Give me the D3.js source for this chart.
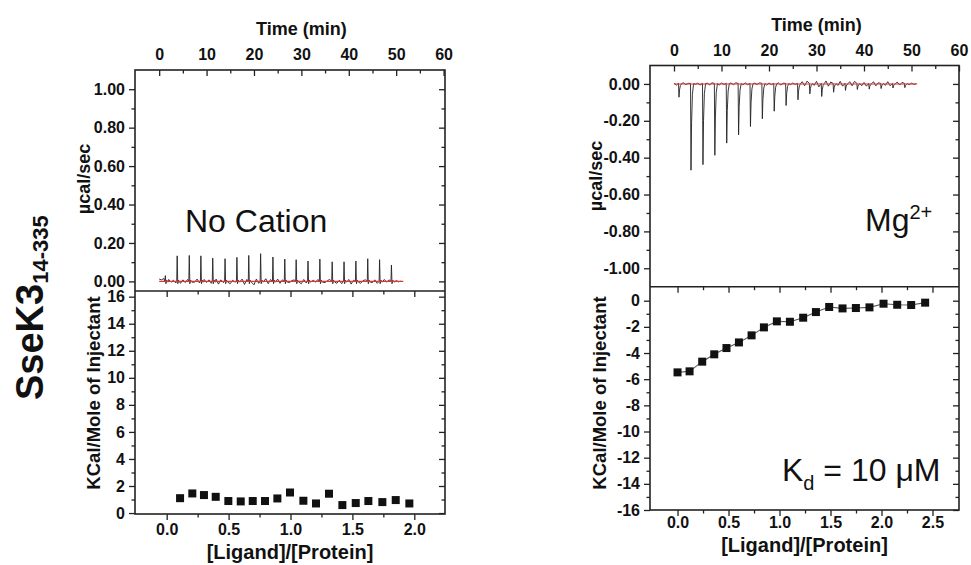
<!DOCTYPE html>
<html><head><meta charset="utf-8">
<script src="https://cdn.jsdelivr.net/npm/d3@7"></script>
<style>
body{margin:0;background:#fff;}
svg{display:block;}
text{font-family:"Liberation Sans",Arial,sans-serif;fill:#111;}
</style>
</head><body>
<svg id="c" width="971" height="565"></svg>
<script>
// ---------- data ----------
const timeTicks = [0, 10, 20, 30, 40, 50, 60];
const powerTicksLeft = [0, 0.2, 0.4, 0.6, 0.8, 1.0];
const powerTicksRight = [0, -0.2, -0.4, -0.6, -0.8, -1.0];
const heatTicksLeft = [0, 2, 4, 6, 8, 10, 12, 14, 16];
const heatTicksRight = [-16, -14, -12, -10, -8, -6, -4, -2, 0];
const ratioTicksLeft = [0.0, 0.5, 1.0, 1.5, 2.0];
const ratioTicksRight = [0.0, 0.5, 1.0, 1.5, 2.0, 2.5];

// raw ITC thermogram: injection times (min) and peak heights (µcal/sec)
const injTimesLeft = [1.3, 3.8, 6.35, 8.8, 11.3, 13.9, 16.4, 18.9, 21.4, 24.0, 26.5, 28.9, 31.4, 33.9, 36.5, 39.0, 41.5, 44.0, 46.5, 49.0];
const peaksLeft = [0.03, 0.133, 0.135, 0.133, 0.121, 0.118, 0.125, 0.135, 0.144, 0.127, 0.116, 0.113, 0.106, 0.116, 0.102, 0.102, 0.106, 0.118, 0.113, 0.085];
const injTimesRight = [1.05, 3.58, 6.1, 8.6, 11.1, 13.6, 16.1, 18.6, 21.1, 23.6, 26.1, 28.6, 31.1, 33.6, 36.1, 38.6, 41.1, 43.6, 46.1, 48.6];
const peaksRight = [-0.072, -0.468, -0.438, -0.387, -0.321, -0.276, -0.231, -0.189, -0.148, -0.117, -0.086, -0.054, -0.068, -0.045, -0.035, -0.030, -0.028, -0.025, -0.022, -0.020];
// baseline wiggle read every 0.5 min from 0 to 51 min
const noiseLeft = [0.012,0.008,0.015,0.005,0.010,-0.004,0.006,-0.008,0.004,-0.010,0.008,-0.006,0.010,-0.012,0.006,-0.004,0.012,-0.008,0.004,0.010,
-0.006,0.008,-0.010,0.005,0.012,-0.014,0.008,-0.006,0.004,0.010,-0.012,0.006,-0.004,0.008,-0.010,0.012,-0.016,0.010,-0.012,0.015,
-0.018,0.012,-0.010,0.008,-0.006,0.014,-0.012,0.010,-0.008,0.006,0.012,-0.010,0.008,-0.014,0.010,-0.006,0.004,0.008,-0.010,0.006,
-0.012,0.010,-0.008,0.012,-0.016,0.006,-0.004,0.010,-0.012,0.008,-0.006,0.004,0.010,-0.008,0.012,-0.010,0.006,-0.012,0.008,-0.004,
0.010,-0.014,0.006,-0.008,0.012,-0.010,0.004,0.008,-0.012,0.010,-0.006,0.008,-0.010,0.006,-0.012,0.010,-0.004,0.008,-0.010,0.006,
0.004,-0.002,0.001];
const noiseRight = [0.004,-0.006,0.005,-0.003,0.006,-0.004,0.003,-0.005,0.006,-0.002,0.004,-0.006,0.005,-0.003,0.004,-0.005,0.006,-0.004,0.003,-0.006,
0.005,-0.003,0.004,-0.006,0.005,-0.004,0.006,-0.003,0.004,-0.005,0.006,-0.004,0.005,-0.006,0.004,-0.003,0.006,-0.005,0.004,-0.006,
0.005,-0.004,0.006,-0.003,0.005,-0.006,0.004,-0.005,0.006,-0.004,0.005,-0.003,0.004,-0.006,0.012,-0.010,0.015,-0.012,0.018,-0.008,
0.014,-0.016,0.012,-0.010,0.016,-0.012,0.010,-0.014,0.012,-0.008,0.014,-0.012,0.010,-0.016,0.012,-0.010,0.014,-0.008,0.012,-0.010,
0.008,-0.012,0.010,-0.008,0.012,-0.010,0.006,-0.012,0.010,-0.008,0.012,-0.010,0.008,-0.012,0.010,-0.006,0.008,-0.010,0.006,-0.004,
0.004,-0.002,0.001];

// integrated heats
const ratioLeft = [0.108,0.207,0.301,0.396,0.498,0.598,0.695,0.794,0.894,0.996,1.104,1.206,1.311,1.419,1.527,1.629,1.742,1.850,1.960];
const heatLeft  = [1.10,1.45,1.33,1.20,0.89,0.86,0.89,0.89,1.08,1.52,0.91,0.71,1.43,0.59,0.74,0.89,0.81,0.96,0.71];
const ratioRight = [0.0,0.118,0.242,0.36,0.48,0.602,0.726,0.847,0.974,1.102,1.232,1.357,1.487,1.618,1.749,1.882,2.02,2.154,2.291,2.428];
const heatRight  = [-5.48,-5.40,-4.66,-4.10,-3.62,-3.19,-2.65,-2.04,-1.58,-1.61,-1.30,-0.87,-0.48,-0.59,-0.56,-0.51,-0.23,-0.31,-0.33,-0.15];

// ---------- drawing ----------
const svg = d3.select("#c");
const FRAME = "#222";

function minorTicks(ticks) {
  const out = [];
  for (let i = 0; i < ticks.length - 1; i++) out.push((ticks[i] + ticks[i + 1]) / 2);
  return out;
}

function column(cfg) {
  const g = svg.append("g");
  const xT = d3.scaleLinear().domain(cfg.timeDomain).range([cfg.x0, cfg.x1]);
  const yP = d3.scaleLinear().domain(cfg.powerDomain).range([cfg.mid, cfg.top]);
  const xR = d3.scaleLinear().domain(cfg.ratioDomain).range([cfg.x0, cfg.x1]);
  const yH = d3.scaleLinear().domain(cfg.heatDomain).range([cfg.bottom, cfg.mid]);

  function ax(axis, tx, ty, labels) {
    const a = g.append("g").attr("transform", `translate(${tx},${ty})`).call(axis);
    a.select(".domain").remove();
    a.selectAll("line").attr("stroke", FRAME).attr("stroke-width", 1.3);
    a.selectAll("text").attr("font-size", 16).attr("font-weight", "bold").attr("fill", "#111").style("font-family", '"Liberation Sans",Arial,sans-serif');
    if (!labels) a.selectAll("text").remove();
    return a;
  }
  const fmt2 = d3.format(".2f"), fmt1 = d3.format(".1f"), fmt0 = d3.format("d");
  const minusFix = f => v => f(v).replace("−", "-");

  // top panel: time axis on top (inward ticks)
  ax(d3.axisTop(xT).tickValues(cfg.timeTicks).tickSize(-6).tickPadding(10).tickFormat(fmt0), 0, cfg.top, true);
  ax(d3.axisTop(xT).tickValues(minorTicks(cfg.timeTicks)).tickSize(-3.5).tickFormat(""), 0, cfg.top, false);
  // top panel: power axis left (outward) and right (inward)
  ax(d3.axisLeft(yP).tickValues(cfg.powerTicks).tickSize(6).tickPadding(4).tickFormat(minusFix(fmt2)), cfg.x0, 0, true);
  ax(d3.axisLeft(yP).tickValues(minorTicks(cfg.powerTicks)).tickSize(3.5).tickFormat(""), cfg.x0, 0, false);
  ax(d3.axisLeft(yP).tickValues(cfg.powerTicks).tickSize(6).tickFormat(""), cfg.x1, 0, false);
  ax(d3.axisLeft(yP).tickValues(minorTicks(cfg.powerTicks)).tickSize(3.5).tickFormat(""), cfg.x1, 0, false);

  // bottom panel: ratio axis bottom (outward) and at divider (inward)
  ax(d3.axisBottom(xR).tickValues(cfg.ratioTicks).tickSize(6).tickPadding(cfg.xPad).tickFormat(minusFix(fmt1)), 0, cfg.bottom, true);
  ax(d3.axisBottom(xR).tickValues(minorTicks(cfg.ratioTicks)).tickSize(3.5).tickFormat(""), 0, cfg.bottom, false);
  ax(d3.axisTop(xR).tickValues(cfg.ratioTicks).tickSize(-6).tickFormat(""), 0, cfg.mid, false);
  ax(d3.axisTop(xR).tickValues(minorTicks(cfg.ratioTicks)).tickSize(-3.5).tickFormat(""), 0, cfg.mid, false);
  // bottom panel: heat axis
  ax(d3.axisLeft(yH).tickValues(cfg.heatTicks).tickSize(6).tickPadding(4).tickFormat(minusFix(fmt0)), cfg.x0, 0, true);
  ax(d3.axisLeft(yH).tickValues(minorTicks(cfg.heatTicks)).tickSize(3.5).tickFormat(""), cfg.x0, 0, false);
  ax(d3.axisLeft(yH).tickValues(cfg.heatTicks).tickSize(6).tickFormat(""), cfg.x1, 0, false);
  ax(d3.axisLeft(yH).tickValues(minorTicks(cfg.heatTicks)).tickSize(3.5).tickFormat(""), cfg.x1, 0, false);

  // thermogram trace
  const pts = [];
  const spikeWin = cfg.inj.map(t => [t - 0.15, t + 0.65]);
  cfg.noise.forEach((v, i) => {
    const t = i * 0.5;
    if (!spikeWin.some(w => t >= w[0] && t <= w[1])) pts.push([t, v]);
  });
  cfg.inj.forEach((t, i) => {
    const h = cfg.peaks[i];
    if (h > 0) {
      pts.push([t - 0.1, 0.0], [t, h], [t + 0.12, -0.012], [t + 0.3, 0.006], [t + 0.55, -0.004]);
    } else {
      pts.push([t - 0.1, 0.003], [t, h], [t + 0.12, h * 0.45], [t + 0.3, h * 0.12], [t + 0.55, 0.002]);
    }
  });
  pts.sort((a, b) => a[0] - b[0]);
  const clipId = "clip" + cfg.id;
  g.append("clipPath").attr("id", clipId).append("rect")
    .attr("x", cfg.x0).attr("y", cfg.top).attr("width", cfg.x1 - cfg.x0).attr("height", cfg.mid - cfg.top);
  g.append("path").datum(pts).attr("clip-path", `url(#${clipId})`)
    .attr("d", d3.line().x(d => xT(d[0])).y(d => yP(d[1])))
    .attr("fill", "none").attr("stroke", "#222").attr("stroke-width", 0.9);
  g.append("path").datum([[0, 0], [cfg.traceEnd, 0]])
    .attr("d", d3.line().x(d => xT(d[0])).y(d => yP(d[1])))
    .attr("fill", "none").attr("stroke", "#e0353a").attr("stroke-width", 1.1);

  // integrated heats
  const hp = cfg.ratio.map((r, i) => [r, cfg.heat[i]]);
  if (cfg.fitLine) {
    g.append("path").datum(hp)
      .attr("d", d3.line().x(d => xR(d[0])).y(d => yH(d[1])))
      .attr("fill", "none").attr("stroke", "#555").attr("stroke-width", 1.1);
  }
  g.selectAll("rect.pt").data(hp).join("rect").attr("class", "pt")
    .attr("x", d => xR(d[0]) - 4).attr("y", d => yH(d[1]) - 4)
    .attr("width", 8).attr("height", 8).attr("fill", "#111");

  // frame
  g.append("rect").attr("x", cfg.x0).attr("y", cfg.top).attr("width", cfg.x1 - cfg.x0)
    .attr("height", cfg.bottom - cfg.top).attr("fill", "none").attr("stroke", FRAME).attr("stroke-width", 1.6);
  g.append("line").attr("x1", cfg.x0).attr("x2", cfg.x1).attr("y1", cfg.mid).attr("y2", cfg.mid)
    .attr("stroke", FRAME).attr("stroke-width", 1.6);

  // titles
  g.append("text").attr("x", (xT(0) + xT(60)) / 2).attr("y", cfg.timeTitleY).attr("text-anchor", "middle")
    .attr("font-size", 18).attr("font-weight", "bold").text("Time (min)");
  g.append("text").attr("x", (cfg.x0 + cfg.x1) / 2).attr("y", cfg.ratioTitleY).attr("text-anchor", "middle")
    .attr("font-size", 20).attr("font-weight", "bold").text("[Ligand]/[Protein]");
  g.append("text").attr("transform", `translate(${cfg.powerTitleX},${cfg.powerTitleCY}) rotate(-90)`)
    .attr("text-anchor", "middle").attr("font-size", 18).attr("font-weight", "bold").text("µcal/sec");
  g.append("text").attr("transform", `translate(${cfg.heatTitleX},${cfg.heatTitleCY}) rotate(-90)`)
    .attr("text-anchor", "middle").attr("font-size", 18.5).attr("font-weight", "bold").text("KCal/Mole of Injectant");
  return { g, xT, yP, xR, yH };
}

const L = column({
  id: "L", x0: 135, x1: 445, top: 70, mid: 291, bottom: 514,
  timeDomain: [-5.1, 60.3], powerDomain: [-0.05, 1.1], ratioDomain: [-0.256, 2.248], heatDomain: [-0.07, 16.42],
  timeTicks, powerTicks: powerTicksLeft, heatTicks: heatTicksLeft, ratioTicks: ratioTicksLeft,
  inj: injTimesLeft, peaks: peaksLeft, noise: noiseLeft, traceEnd: 51.5,
  ratio: ratioLeft, heat: heatLeft, fitLine: false, xPad: 4,
  timeTitleY: 35, ratioTitleY: 559, powerTitleX: 90, powerTitleCY: 179, heatTitleX: 100, heatTitleCY: 393
});
const R = column({
  id: "R", x0: 650, x1: 959, top: 65.5, mid: 286.7, bottom: 510,
  timeDomain: [-5.05, 60.0], powerDomain: [-1.1, 0.1], ratioDomain: [-0.27, 2.76], heatDomain: [-16, 1.07],
  timeTicks, powerTicks: powerTicksRight, heatTicks: heatTicksRight, ratioTicks: ratioTicksRight,
  inj: injTimesRight, peaks: peaksRight, noise: noiseRight, traceEnd: 51.2,
  ratio: ratioRight, heat: heatRight, fitLine: true, xPad: 1,
  timeTitleY: 31, ratioTitleY: 552, powerTitleX: 602, powerTitleCY: 176, heatTitleX: 606, heatTitleCY: 393
});

// annotations
svg.append("text").attr("x", 185).attr("y", 232).attr("font-size", 32).text("No Cation");
const mg = svg.append("text").attr("x", 865).attr("y", 231).attr("font-size", 32);
mg.append("tspan").text("Mg");
mg.append("tspan").attr("font-size", 20).attr("dy", -12).text("2+");
const kd = svg.append("text").attr("x", 782).attr("y", 481).attr("font-size", 32);
kd.append("tspan").text("K");
kd.append("tspan").attr("font-size", 20).attr("dy", 9).text("d");
kd.append("tspan").attr("dy", -9).text(" = 10 μM");

// side label
const side = svg.append("text").attr("transform", "translate(43,400) rotate(-90)")
  .attr("font-size", 38).attr("font-weight", "bold");
side.append("tspan").text("SseK3");
side.append("tspan").attr("font-size", 22).attr("dy", 5).text("14-335");
</script>
</body></html>
